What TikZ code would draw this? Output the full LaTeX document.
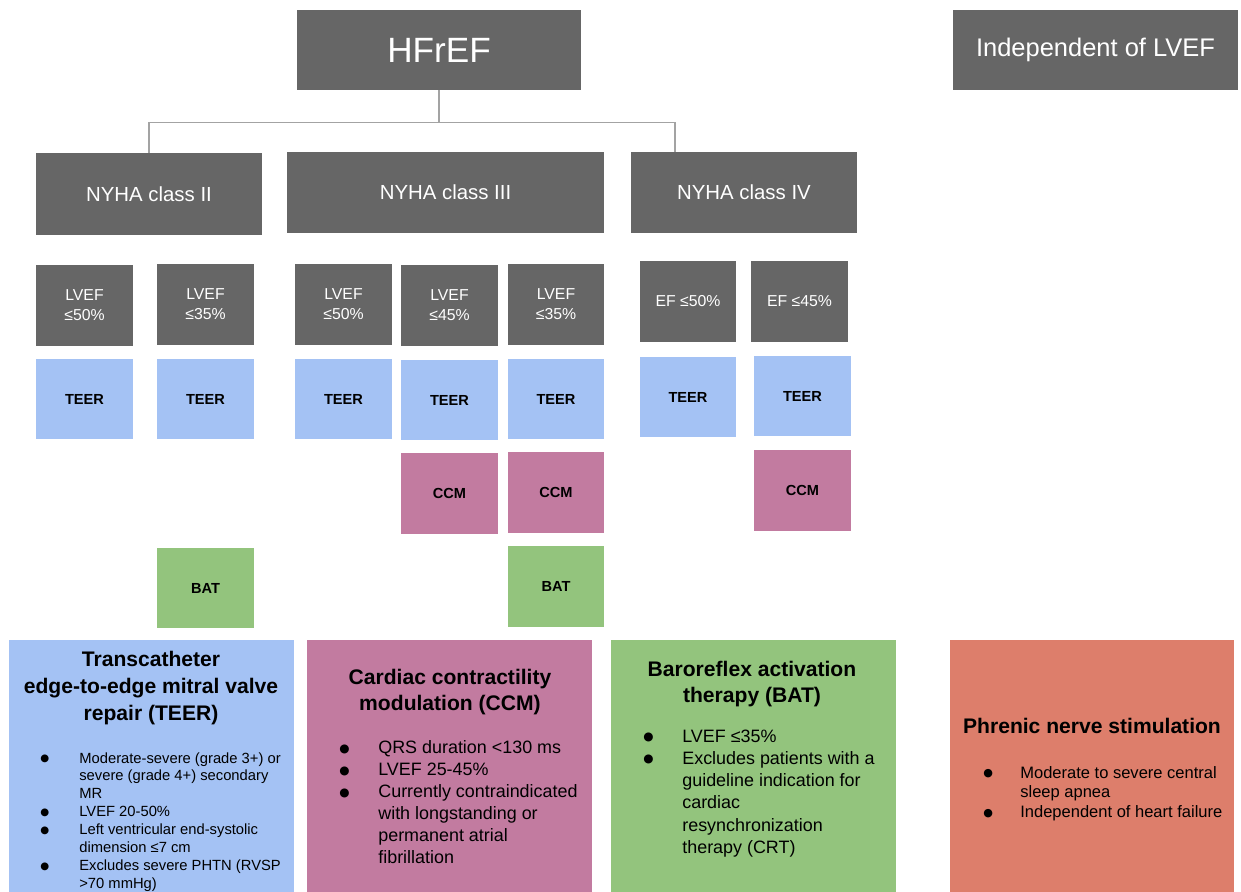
\documentclass[tikz,border=0pt]{standalone}
\usepackage{fontspec}
\setmainfont{Liberation Sans}
\newfontfamily\dotfont{DejaVu Sans}
\usepackage{array}
\definecolor{hdrgray}{HTML}{666666}
\definecolor{teerblue}{HTML}{A4C2F4}
\definecolor{ccmpink}{HTML}{C27BA0}
\definecolor{batgreen}{HTML}{93C47D}
\definecolor{pnsred}{HTML}{DD7E6B}
\definecolor{linegray}{HTML}{A3A3A3}
% round list bullet of a given size
\newcommand{\bdot}[1]{\raisebox{0.8pt}{\dotfont\fontsize{#1}{#1}\selectfont ●}}

\begin{document}
\begin{tikzpicture}[x=0.02cm, y=-0.02cm,
    gbox/.style={fill=hdrgray, text=white, inner sep=0pt, align=center},
    sbox/.style={minimum width=1.94cm, minimum height=1.62cm, inner sep=0pt, align=center},
    lvef/.style={sbox, fill=hdrgray, text=white, font=\fontsize{9}{11.3}\selectfont},
    teer/.style={sbox, fill=teerblue, font=\fontsize{8.3}{10}\selectfont\bfseries},
    ccm/.style={sbox, fill=ccmpink, font=\fontsize{8.3}{10}\selectfont\bfseries},
    bat/.style={sbox, fill=batgreen, font=\fontsize{8.3}{10}\selectfont\bfseries},
    bigbox/.style={minimum width=5.7cm, minimum height=5.04cm, inner sep=0pt},
    head/.style={font=\fontsize{12}{15.3}\selectfont\bfseries, align=center, inner sep=0pt},
    blist/.style={anchor=base west, inner sep=0pt},
    conn/.style={draw=linegray, line width=0.9pt}
]
    \useasboundingbox (0,0) rectangle (1241,892);

    % Top row
    \node[gbox, minimum width=5.68cm, minimum height=1.6cm, font=\fontsize{20}{24}\selectfont] (hfref) at (439,50) {HFrEF};
    \node[gbox, minimum width=5.7cm, minimum height=1.6cm, font=\fontsize{14.5}{17}\selectfont] (indep) at (1095.5,50) {Independent of LVEF};

    % NYHA classes
    \node[gbox, minimum width=4.52cm, minimum height=1.64cm, font=\fontsize{11.6}{14}\selectfont] (nyha2) at (149,194) {NYHA class II};
    \node[gbox, minimum width=6.34cm, minimum height=1.62cm, font=\fontsize{11.6}{14}\selectfont] (nyha3) at (445.5,192.5) {NYHA class III};
    \node[gbox, minimum width=4.52cm, minimum height=1.62cm, font=\fontsize{11.6}{14}\selectfont] (nyha4) at (744,192.5) {NYHA class IV};
    \coordinate (tap4) at (675,152);

    \draw[conn] (hfref.south) -- ++(0,32) -| (nyha2.north);
    \draw[conn] (hfref.south) -- ++(0,32) -| (tap4);

    % LVEF thresholds
    \node[lvef] (ef2a) at (84.5,305.5) {LVEF\\≤50\%};
    \node[lvef] (ef2b) at (205.5,304.5) {LVEF\\≤35\%};
    \node[lvef] (ef3a) at (343.5,304.5) {LVEF\\≤50\%};
    \node[lvef] (ef3b) at (449.5,305.5) {LVEF\\≤45\%};
    \node[lvef] (ef3c) at (556,304.5) {LVEF\\≤35\%};
    \node[lvef] (ef4a) at (688,301.5) {EF ≤50\%};
    \node[lvef] (ef4b) at (799.5,301.5) {EF ≤45\%};

    % Therapies per threshold
    \node[teer] (teer2a) at (84.5,399) {TEER};
    \node[teer] (teer2b) at (205.5,399) {TEER};
    \node[teer] (teer3a) at (343.5,399) {TEER};
    \node[teer] (teer3b) at (449.5,400) {TEER};
    \node[teer] (teer3c) at (556,399) {TEER};
    \node[teer] (teer4a) at (688,397) {TEER};
    \node[teer] (teer4b) at (802.5,396) {TEER};

    \node[ccm] (ccm3b) at (449.5,493.5) {CCM};
    \node[ccm] (ccm3c) at (556,492.5) {CCM};
    \node[ccm] (ccm4b) at (802.5,490.5) {CCM};

    \node[bat] (bat2b) at (205.5,588) {BAT};
    \node[bat] (bat3c) at (556,586.5) {BAT};

    % Detail boxes
    \node[bigbox, fill=teerblue] (teerbox) at (151.5,766) {};
    \node[bigbox, fill=ccmpink] (ccmbox) at (449.5,766) {};
    \node[bigbox, fill=batgreen] (batbox) at (753.5,766) {};
    \node[bigbox, fill=pnsred] (pnsbox) at (1092,766) {};

    \node[head] (teerhead) at (151,688) {Transcatheter\\edge-to-edge mitral valve\\repair (TEER)};
    \node[head] (ccmhead) at (450,692) {Cardiac contractility\\modulation (CCM)};
    \node[head] (bathead) at (752,684) {Baroreflex activation\\therapy (BAT)};
    \node[head] (pnshead) at (1092,726) {Phrenic nerve stimulation};

    \node[blist, font=\fontsize{8.4}{10.2}\selectfont] (teerlist) at (40,763) {%
        \begin{tabular}[t]{@{}p{0.78cm}@{}l@{}}
        \bdot{5.8} & Moderate-severe (grade 3+) or\\
                   & severe (grade 4+) secondary\\
                   & MR\\
        \bdot{5.8} & LVEF 20-50\%\\
        \bdot{5.8} & Left ventricular end-systolic\\
                   & dimension ≤7 cm\\
        \bdot{5.8} & Excludes severe PHTN (RVSP\\
                   & >70 mmHg)
        \end{tabular}};
    \node[blist, font=\fontsize{10.2}{12.5}\selectfont] (ccmlist) at (339,753.5) {%
        \begin{tabular}[t]{@{}p{0.78cm}@{}l@{}}
        \bdot{6.7} & QRS duration <130 ms\\
        \bdot{6.7} & LVEF 25-45\%\\
        \bdot{6.7} & Currently contraindicated\\
                   & with longstanding or\\
                   & permanent atrial\\
                   & fibrillation
        \end{tabular}};
    \node[blist, font=\fontsize{10.2}{12.7}\selectfont] (batlist) at (643,742) {%
        \begin{tabular}[t]{@{}p{0.78cm}@{}l@{}}
        \bdot{6.7} & LVEF ≤35\%\\
        \bdot{6.7} & Excludes patients with a\\
                   & guideline indication for\\
                   & cardiac\\
                   & resynchronization\\
                   & therapy (CRT)
        \end{tabular}};
    \node[blist, font=\fontsize{9.4}{11.3}\selectfont] (pnslist) at (983,778) {%
        \begin{tabular}[t]{@{}p{0.74cm}@{}l@{}}
        \bdot{6.3} & Moderate to severe central\\
                   & sleep apnea\\
        \bdot{6.3} & Independent of heart failure
        \end{tabular}};
\end{tikzpicture}
\end{document}
